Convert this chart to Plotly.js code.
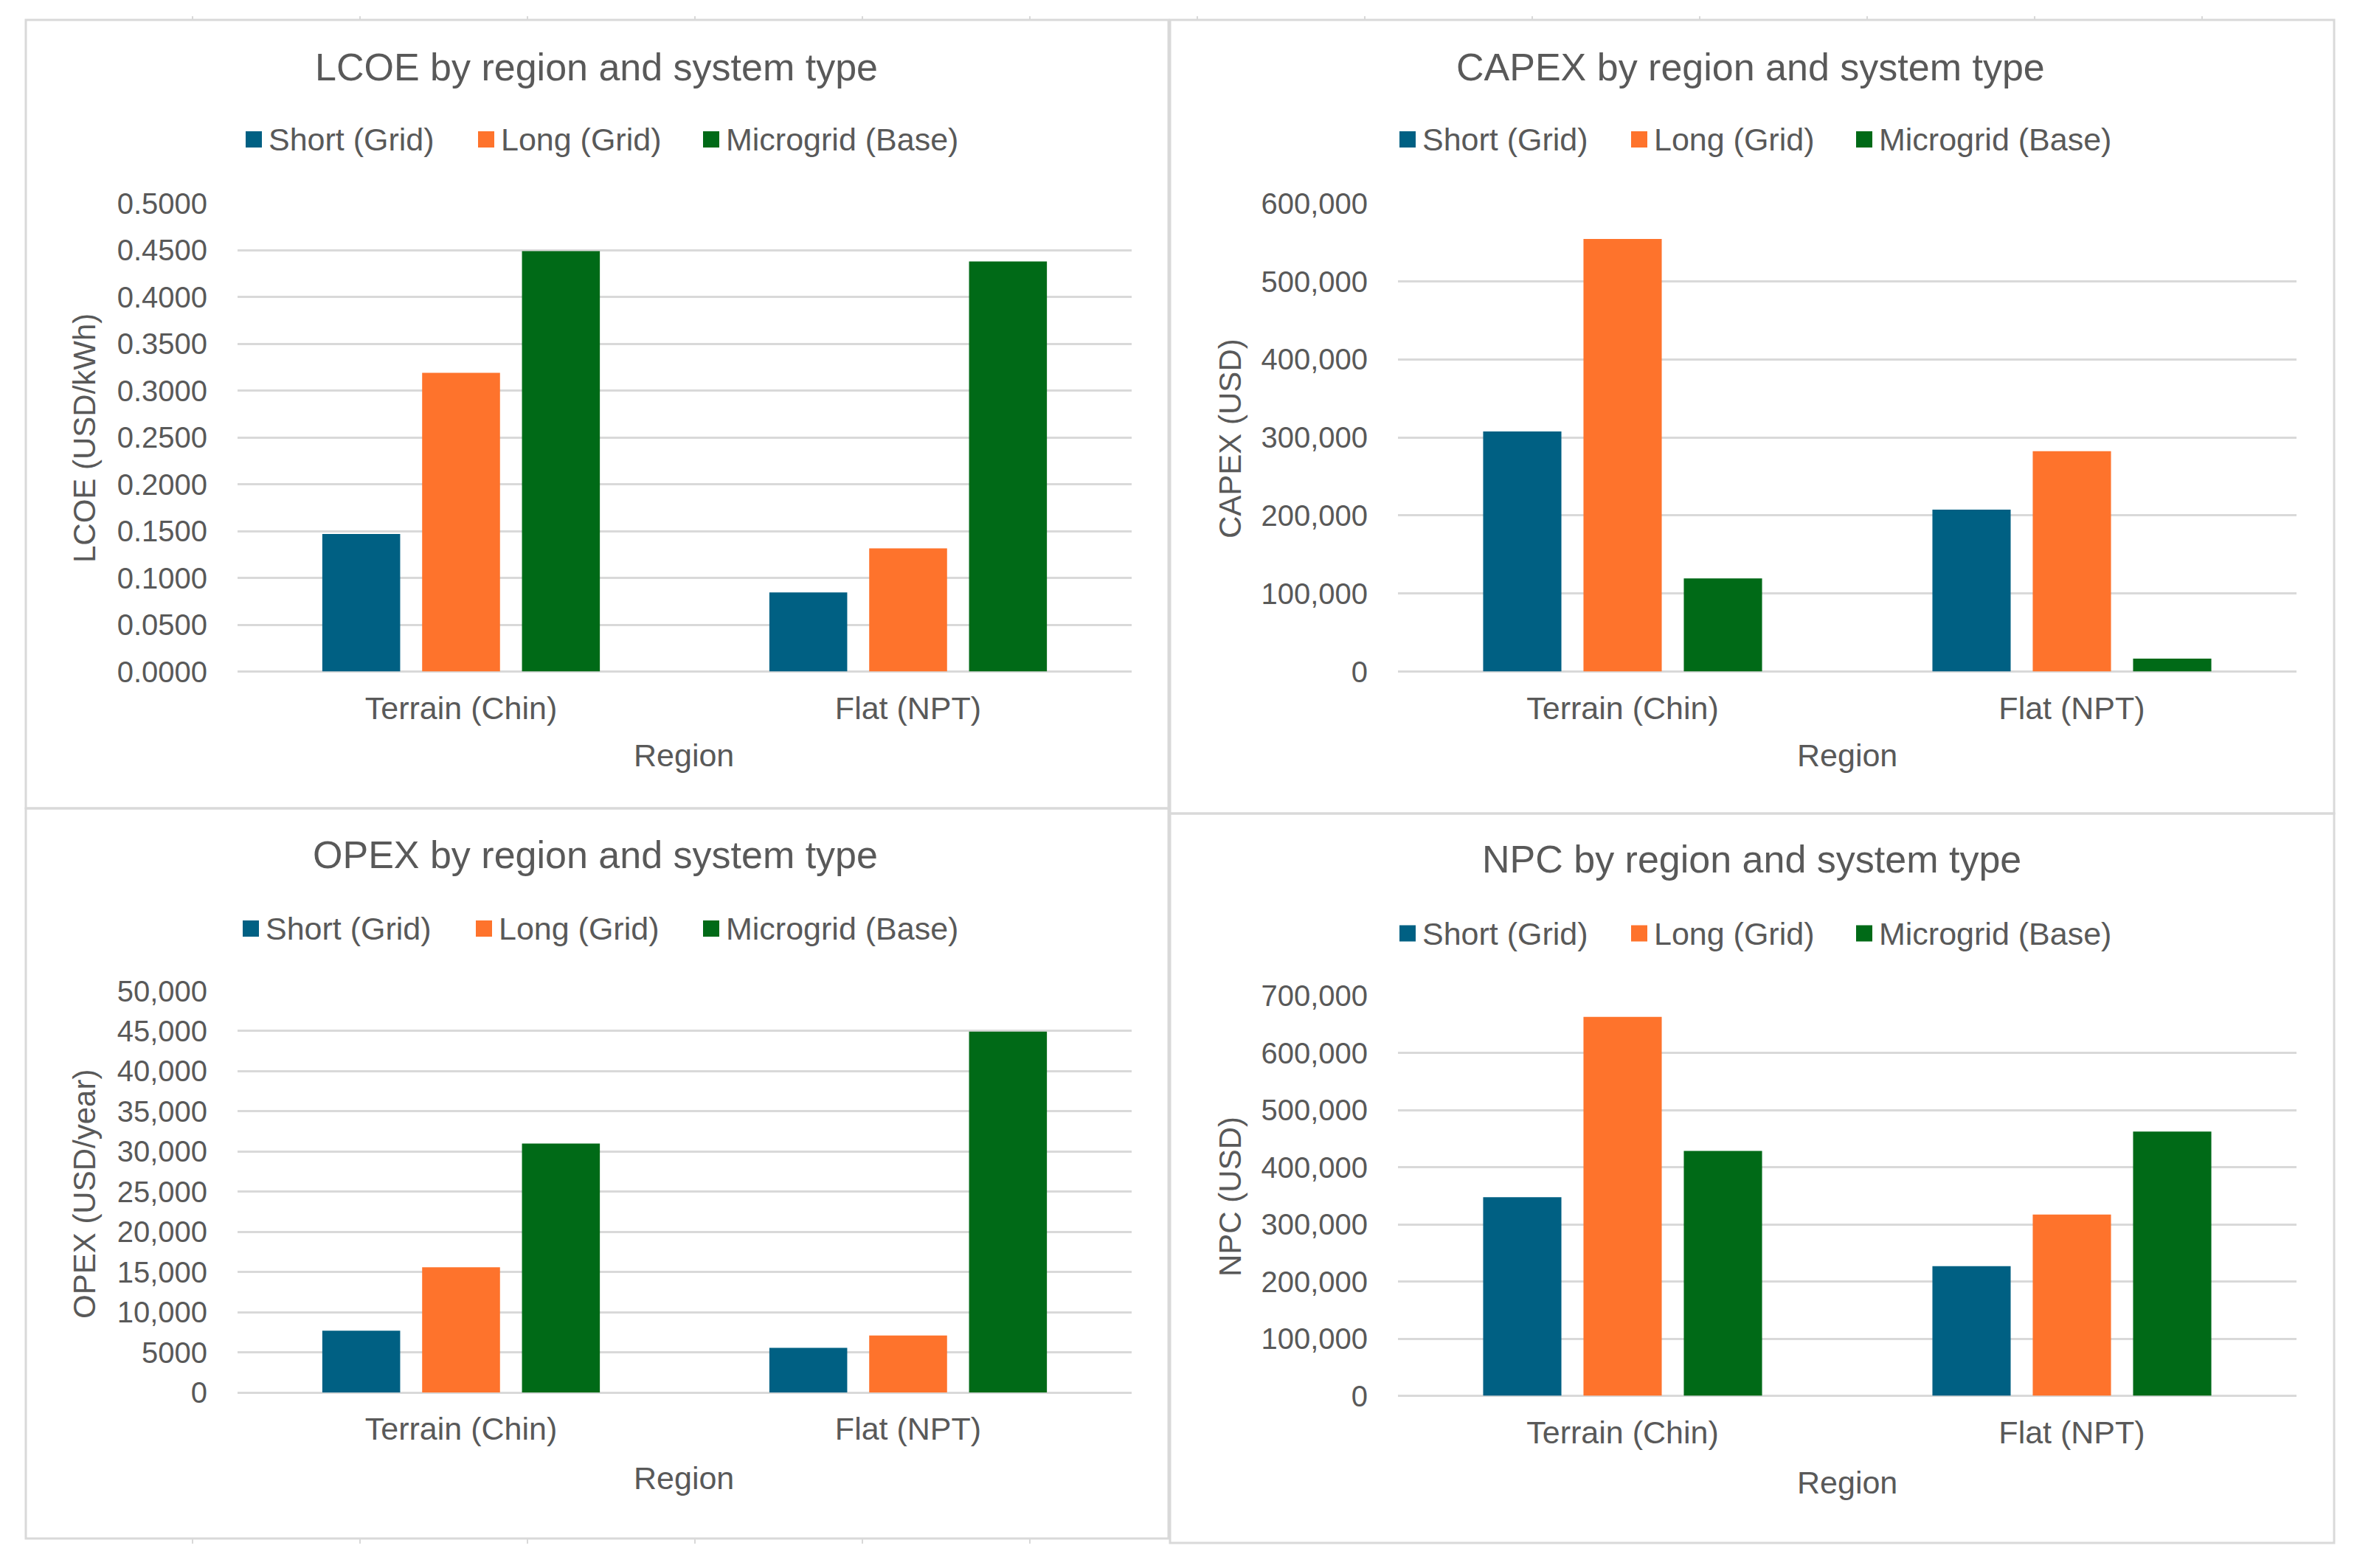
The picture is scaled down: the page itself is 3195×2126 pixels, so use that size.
<!DOCTYPE html>
<html>
<head>
<meta charset="utf-8">
<script src="https://cdn.plot.ly/plotly-3.0.1.min.js"></script>
<style>html,body{margin:0;padding:0;background:#fff;}#chart{width:3195px;height:2126px;}</style>
</head>
<body>
<div id="chart"></div>
<script>
// ---------- data ----------
const regions = ['Terrain (Chin)', 'Flat (NPT)'];
const seriesNames = ['Short (Grid)', 'Long (Grid)', 'Microgrid (Base)'];
const seriesColors = ['#006083', '#FE732C', '#006A17'];

const lcoeShort = [0.147, 0.0845];
const lcoeLong = [0.319, 0.1315];
const lcoeMicro = [0.449, 0.438];

const capexShort = [307600, 207500];
const capexLong = [554300, 282400];
const capexMicro = [119300, 16600];

const opexShort = [7700, 5560];
const opexLong = [15590, 7090];
const opexMicro = [30990, 44930];

const npcShort = [347400, 226700];
const npcLong = [662900, 317200];
const npcMicro = [428400, 462100];

const opexTickVals = [0, 5000, 10000, 15000, 20000, 25000, 30000, 35000, 40000, 45000, 50000];
const opexTickText = ['0', '5000', '10,000', '15,000', '20,000', '25,000', '30,000', '35,000', '40,000', '45,000', '50,000'];

// ---------- layout helpers ----------
const W = 3195, H = 2126;
const fx = p => p / W;
const fy = p => 1 - p / H;
const FONT = 'Liberation Sans, Arial, sans-serif';
const TXT = '#595959';
const GRID = '#d9d9d9';

const panels = [
  { ax: '', data: [lcoeShort, lcoeLong, lcoeMicro], range: [0, 0.5], dtick: 0.05, fmt: '.4f',
    xdom: [322, 1534], ydom: [910.6, 275.7], title: 'LCOE by region and system type', ytitle: 'LCOE (USD/kWh)',
    titlePos: [808, 91], legendY: 189, sq: [333, 648, 953], regionPos: [927, 1024], ytitlePos: [114, 594] },
  { ax: '2', data: [capexShort, capexLong, capexMicro], range: [0, 600000], dtick: 100000, fmt: ',',
    xdom: [1895, 3113], ydom: [910.6, 275.7], title: 'CAPEX by region and system type', ytitle: 'CAPEX (USD)',
    titlePos: [2373, 91], legendY: 189, sq: [1897, 2211, 2516], regionPos: [2504, 1024], ytitlePos: [1667, 594] },
  { ax: '3', data: [opexShort, opexLong, opexMicro], range: [0, 50000], tickvals: opexTickVals, ticktext: opexTickText,
    xdom: [322, 1534], ydom: [1888, 1343.5], title: 'OPEX by region and system type', ytitle: 'OPEX (USD/year)',
    titlePos: [807, 1159], legendY: 1259, sq: [329, 645, 953], regionPos: [927, 2004], ytitlePos: [114, 1619] },
  { ax: '4', data: [npcShort, npcLong, npcMicro], range: [0, 700000], dtick: 100000, fmt: ',',
    xdom: [1895, 3113], ydom: [1892.5, 1350], title: 'NPC by region and system type', ytitle: 'NPC (USD)',
    titlePos: [2374, 1165], legendY: 1265.5, sq: [1897, 2211, 2516], regionPos: [2504, 2010], ytitlePos: [1667, 1622] }
];

const traces = [];
const layout = {
  width: W, height: H,
  margin: { l: 0, r: 0, t: 0, b: 0, pad: 0 },
  paper_bgcolor: '#ffffff', plot_bgcolor: '#ffffff',
  showlegend: false,
  barmode: 'group', bargap: 0.33, bargroupgap: 0.22,
  font: { family: FONT, color: TXT },
  annotations: [], shapes: []
};

panels.forEach(p => {
  const xa = 'x' + p.ax, ya = 'y' + p.ax;
  p.data.forEach((vals, i) => {
    traces.push({
      type: 'bar', x: regions, y: vals, name: seriesNames[i],
      xaxis: xa, yaxis: ya,
      marker: { color: seriesColors[i], line: { width: 0 } },
      hoverinfo: 'skip'
    });
  });
  layout['xaxis' + p.ax] = {
    domain: [fx(p.xdom[0]), fx(p.xdom[1])], anchor: ya, type: 'category',
    showgrid: false, showline: false, zeroline: false, ticks: '',
    tickfont: { family: FONT, size: 43, color: TXT }, ticklabelstandoff: 20, fixedrange: true
  };
  const yax = {
    domain: [fy(p.ydom[0]), fy(p.ydom[1])], anchor: xa, range: p.range,
    showgrid: true, gridcolor: GRID, gridwidth: 3,
    zeroline: true, zerolinecolor: GRID, zerolinewidth: 3,
    showline: false, ticks: '',
    tickfont: { family: FONT, size: 40, color: TXT }, ticklabelstandoff: 40, fixedrange: true
  };
  if (p.tickvals) { yax.tickmode = 'array'; yax.tickvals = p.tickvals; yax.ticktext = p.ticktext; }
  else { yax.tick0 = 0; yax.dtick = p.dtick; yax.tickformat = p.fmt; }
  layout['yaxis' + p.ax] = yax;

  // chart title
  layout.annotations.push({ xref: 'paper', yref: 'paper', x: fx(p.titlePos[0]), y: fy(p.titlePos[1]),
    xanchor: 'center', yanchor: 'middle', showarrow: false, text: p.title,
    font: { family: FONT, size: 52, color: TXT } });
  // axis titles
  layout.annotations.push({ xref: 'paper', yref: 'paper', x: fx(p.regionPos[0]), y: fy(p.regionPos[1]),
    xanchor: 'center', yanchor: 'middle', showarrow: false, text: 'Region',
    font: { family: FONT, size: 43, color: TXT } });
  layout.annotations.push({ xref: 'paper', yref: 'paper', x: fx(p.ytitlePos[0]), y: fy(p.ytitlePos[1]),
    xanchor: 'center', yanchor: 'middle', showarrow: false, text: p.ytitle, textangle: -90,
    font: { family: FONT, size: 42, color: TXT } });
  // legend (square + label)
  const S = 22;
  seriesNames.forEach((nm, i) => {
    const x0 = p.sq[i];
    layout.shapes.push({ type: 'rect', xref: 'paper', yref: 'paper',
      x0: fx(x0), x1: fx(x0 + S), y0: fy(p.legendY + S / 2), y1: fy(p.legendY - S / 2),
      fillcolor: seriesColors[i], line: { width: 0 } });
    layout.annotations.push({ xref: 'paper', yref: 'paper', x: fx(x0 + S + 7), y: fy(p.legendY),
      xanchor: 'left', yanchor: 'middle', showarrow: false, text: nm,
      font: { family: FONT, size: 43, color: TXT } });
  });
});

// panel frames
const frames = [[35, 27, 1584, 1096], [1586, 27, 3164, 1103], [35, 1096, 1584, 2086], [1586, 1103, 3164, 2092]];
frames.forEach(f => {
  layout.shapes.push({ type: 'rect', xref: 'paper', yref: 'paper',
    x0: fx(f[0]), x1: fx(f[2]), y0: fy(f[3]), y1: fy(f[1]),
    line: { color: GRID, width: 3 }, fillcolor: 'rgba(0,0,0,0)' });
});
// spreadsheet cell ticks along the outer edge
for (let k = 0; k <= 12; k++) {
  const x = 261 + 227 * k;
  layout.shapes.push({ type: 'line', xref: 'paper', yref: 'paper', x0: fx(x), x1: fx(x), y0: fy(27), y1: fy(22),
    line: { color: GRID, width: 2 } });
  if (k <= 5) {
    layout.shapes.push({ type: 'line', xref: 'paper', yref: 'paper', x0: fx(x), x1: fx(x), y0: fy(2093), y1: fy(2087),
      line: { color: GRID, width: 2 } });
  }
}

Plotly.newPlot('chart', traces, layout, { staticPlot: true, displayModeBar: false });
</script>
</body>
</html>
